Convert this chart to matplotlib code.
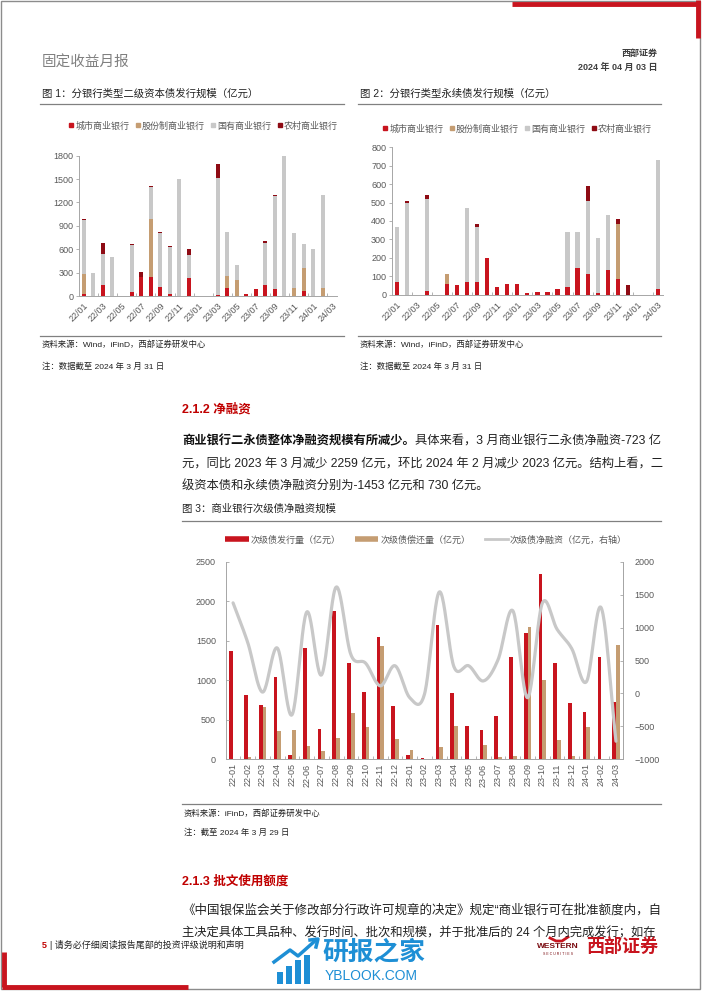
import numpy as np
import matplotlib
matplotlib.use('Agg')
import matplotlib.pyplot as plt
from matplotlib.lines import Line2D
from matplotlib.patches import Rectangle

plt.rcParams['font.family'] = ['Liberation Sans', 'Noto Sans CJK SC', 'DejaVu Sans']

W, H = 702, 991

# ---- data ----
months = ['22/01', '22/02', '22/03', '22/04', '22/05', '22/06', '22/07', '22/08', '22/09',
          '22/10', '22/11', '22/12', '23/01', '23/02', '23/03', '23/04', '23/05', '23/06',
          '23/07', '23/08', '23/09', '23/10', '23/11', '23/12', '24/01', '24/02', '24/03']
bank_types = ['城市商业银行', '股份制商业银行', '国有商业银行', '农村商业银行']

# fig 1: tier-2 capital bonds by bank type
t2_city = [30, 0, 140, 0, 0, 55, 250, 245, 110, 20, 0, 230, 0, 0, 15, 105, 0, 30, 90, 140, 85, 0, 0, 65, 0, 0, 0]
t2_joint = [250, 0, 0, 0, 0, 0, 0, 745, 0, 0, 0, 0, 0, 0, 0, 155, 200, 0, 0, 0, 0, 0, 100, 295, 0, 100, 0]
t2_state = [690, 295, 395, 500, 0, 595, 0, 410, 700, 605, 1500, 300, 0, 0, 1505, 555, 200, 0, 0, 545, 1200, 1800, 705, 305, 600, 1200, 0]
t2_rural = [15, 0, 150, 0, 0, 20, 55, 15, 10, 15, 5, 70, 0, 0, 170, 5, 0, 0, 0, 15, 5, 0, 5, 0, 0, 0, 0]

# fig 2: perpetual bonds by bank type
pp_city = [70, 0, 0, 20, 0, 60, 50, 70, 70, 200, 40, 60, 60, 10, 13, 13, 30, 40, 145, 110, 10, 135, 85, 0, 0, 0, 30]
pp_joint = [0, 0, 0, 0, 0, 50, 0, 0, 0, 0, 0, 0, 0, 0, 0, 0, 0, 0, 0, 0, 0, 0, 300, 0, 0, 0, 0]
pp_state = [300, 500, 0, 500, 0, 0, 0, 400, 300, 0, 0, 0, 0, 0, 0, 0, 0, 300, 195, 400, 300, 300, 0, 0, 0, 0, 700]
pp_rural = [0, 10, 0, 22, 0, 0, 0, 0, 16, 0, 0, 0, 0, 0, 0, 0, 0, 0, 0, 80, 0, 0, 25, 50, 0, 0, 0]

# fig 3: subordinated debt issuance / redemption / net financing
issue = [1370, 809, 683, 1046, 51, 1408, 388, 1880, 1214, 852, 1543, 679, 59, 13, 1699, 835,
         426, 367, 548, 1290, 1602, 2344, 1218, 717, 594, 1298, 729]
repay = [0, 34, 666, 354, 371, 173, 110, 266, 590, 405, 1433, 257, 114, 0, 160, 426,
         0, 181, 25, 42, 1670, 1003, 249, 38, 413, 0, 1446]
net = [1375, 770, 20, 690, -325, 1235, 280, 1615, 590, 460, 115, 420, -65, -10, 1540, 405,
       420, 190, 515, 1255, -65, 1370, 975, 680, 180, 1300, -725]
months_dash = [m.replace('/', '-') for m in months]

RED = '#C8141E'
DARK = '#8E0B14'
TAN = '#C59D72'
GREY = '#C8C8C8'
AXC = '#A6A6A6'
LAB = '#595959'
BODY = 8.85


def box(l, t, r, b):
    return [l / W, 1 - b / H, (r - l) / W, (b - t) / H]


def smooth(x, y, n=24):
    # catmull-rom curve through the points (like excel's smoothed line)
    x = np.asarray(x, float)
    y = np.asarray(y, float)
    px = np.concatenate([[2 * x[0] - x[1]], x, [2 * x[-1] - x[-2]]])
    py = np.concatenate([[2 * y[0] - y[1]], y, [2 * y[-1] - y[-2]]])
    t = np.linspace(0, 1, n, endpoint=False)
    xs, ys = [], []
    for i in range(1, len(px) - 2):
        for p, out in ((px, xs), (py, ys)):
            p0, p1, p2, p3 = p[i - 1], p[i], p[i + 1], p[i + 2]
            out.extend(0.5 * (2 * p1 + (p2 - p0) * t + (2 * p0 - 5 * p1 + 4 * p2 - p3) * t ** 2
                              + (3 * p1 - p0 - 3 * p2 + p3) * t ** 3))
    xs.append(x[-1])
    ys.append(y[-1])
    return xs, ys


fig = plt.figure(figsize=(W / 100, H / 100), dpi=100)

# page overlay in pixel coordinates
pg = fig.add_axes([0, 0, 1, 1])
pg.set_xlim(0, W)
pg.set_ylim(H, 0)
pg.axis('off')

# frame and red corner marks
pg.add_patch(Rectangle((1, 1), 699, 988, fill=False, ec='#8c8c8c', lw=1))
pg.plot([512, 699], [4, 4], color=RED, lw=3.5, solid_capstyle='butt')
pg.plot([697.5, 697.5], [0, 38], color=RED, lw=3.5, solid_capstyle='butt')
pg.plot([4, 4], [952, 987], color=RED, lw=3.5, solid_capstyle='butt')
pg.plot([2, 188], [986.5, 986.5], color=RED, lw=3.5, solid_capstyle='butt')

# header
pg.text(42, 63, '固定收益月报', fontsize=10.5, color='#808080', va='center')
pg.text(658, 53, '西部证券', fontsize=6.5, color='#404040', va='center', ha='right', fontweight='bold')
pg.text(658, 67, '2024 年 04 月 03 日', fontsize=6.5, color='#404040', va='center', ha='right', fontweight='bold')

# figure 1/2 titles and notes
pg.text(42, 94, '图 1：分银行类型二级资本债发行规模（亿元）', fontsize=7.5, color='#222222', va='center')
pg.text(360, 94, '图 2：分银行类型永续债发行规模（亿元）', fontsize=7.5, color='#222222', va='center')
for x0, x1 in ((40, 344), (358, 661)):
    pg.plot([x0, x1], [104, 104], color='#808080', lw=0.9)
    pg.plot([x0, x1], [336, 336], color='#808080', lw=0.9)
    pg.text(x0 + 2, 345, '资料来源：Wind，iFinD，西部证券研发中心', fontsize=6, color='#222222', va='center')
    pg.text(x0 + 2, 367, '注：数据截至 2024 年 3 月 31 日', fontsize=6, color='#222222', va='center')

# section 2.1.2
pg.text(182, 409, '2.1.2 净融资', fontsize=9, color='#C00000', fontweight='bold', va='center')
renderer = fig.canvas.get_renderer()
bold = pg.text(182, 441, '商业银行二永债整体净融资规模有所减少。', fontsize=BODY, color='#111111',
               fontweight='bold', va='center')
bx = bold.get_window_extent(renderer=renderer).x1
pg.text(bx, 441, '具体来看，3 月商业银行二永债净融资-723 亿', fontsize=BODY, color='#222222', va='center')
pg.text(182, 464, '元，同比 2023 年 3 月减少 2259 亿元，环比 2024 年 2 月减少 2023 亿元。结构上看，二',
        fontsize=BODY, color='#222222', va='center')
pg.text(182, 487, '级资本债和永续债净融资分别为-1453 亿元和 730 亿元。', fontsize=BODY, color='#222222', va='center')

pg.text(182, 509, '图 3：商业银行次级债净融资规模', fontsize=7.5, color='#222222', va='center')
pg.plot([182, 661], [521, 521], color='#808080', lw=0.9)
pg.plot([182, 661], [804, 804], color='#808080', lw=0.9)
pg.text(184, 814, '资料来源：iFinD，西部证券研发中心', fontsize=6, color='#222222', va='center')
pg.text(184, 833, '注：截至 2024 年 3 月 29 日', fontsize=6, color='#222222', va='center')

# section 2.1.3
pg.text(182, 882, '2.1.3 批文使用额度', fontsize=9, color='#C00000', fontweight='bold', va='center')
pg.text(182, 910, '《中国银保监会关于修改部分行政许可规章的决定》规定“商业银行可在批准额度内，自',
        fontsize=9, color='#222222', va='center')
pg.text(182, 933, '主决定具体工具品种、发行时间、批次和规模，并于批准后的 24 个月内完成发行；如在',
        fontsize=BODY, color='#222222', va='center')

# footer
pg.text(42, 945, '5', fontsize=6.5, color='#C00000', fontweight='bold', va='center')
pg.text(50, 945, '| 请务必仔细阅读报告尾部的投资评级说明和声明', fontsize=6.5, color='#222222', va='center')

# watermark logo
BLUE = '#1E8FD5'
for bx0, top in ((277, 972), (286, 966), (295, 960), (304, 955)):
    pg.add_patch(Rectangle((bx0, top), 6, 984 - top, color=BLUE, lw=0))
pg.plot([274, 290, 298, 316], [962, 950, 956, 940], color=BLUE, lw=2.5)
pg.plot([310, 318, 316], [940, 939, 947], color=BLUE, lw=2.5)
pg.text(322, 952, '研报之家', fontsize=18.5, color=BLUE, va='center', fontweight='bold')
pg.text(325, 976, 'YBLOOK.COM', fontsize=10, color=BLUE, va='center')

# western logo
pg.text(558, 947, 'WESTERN', fontsize=6, color='#7a0b10', va='center', ha='center', fontweight='bold')
pg.text(558, 954, 'S E C U R I T I E S', fontsize=2.5, color='#7a0b10', va='center', ha='center')
pg.plot([550, 556, 562, 568], [938, 941, 941, 937], color=RED, lw=2)
pg.text(658, 947, '西部证券', fontsize=13, color=RED, va='center', ha='right', fontweight='bold')

x = np.arange(len(months))


def stacked(ax, series, ymax, step):
    bottom = np.zeros(len(x))
    for vals, col in zip(series, [RED, TAN, GREY, DARK]):
        ax.bar(x, vals, width=0.42, bottom=bottom, color=col, lw=0)
        bottom += np.asarray(vals, float)
    ax.set_xlim(-0.5, len(x) - 0.5)
    ax.set_ylim(0, ymax)
    ax.set_yticks(np.arange(0, ymax + 1, step))
    ax.set_xticks(x[::2])
    ax.set_xticklabels(months[::2], rotation=45, ha='right', rotation_mode='anchor')
    ax.set_xticks(np.arange(1.5, len(x) - 1, 2), minor=True)
    for s in ('top', 'right'):
        ax.spines[s].set_visible(False)
    for s in ('left', 'bottom'):
        ax.spines[s].set_color(AXC)
        ax.spines[s].set_linewidth(0.7)
    ax.tick_params(axis='y', labelsize=6.5, labelcolor=LAB, length=2, width=0.6, color=AXC, pad=2)
    ax.tick_params(axis='x', which='major', labelsize=6.5, labelcolor=LAB, length=0, pad=4)
    ax.tick_params(axis='x', which='minor', direction='in', length=2, width=0.6, color=AXC)
    ax.patch.set_alpha(0)


ax1 = fig.add_axes(box(79, 155.7, 337, 296))
stacked(ax1, [t2_city, t2_joint, t2_state, t2_rural], 1800, 300)
ax2 = fig.add_axes(box(391.7, 147.3, 663, 294.7))
stacked(ax2, [pp_city, pp_joint, pp_state, pp_rural], 800, 100)

sq = [Line2D([], [], marker='s', ls='', ms=3.3, color=c) for c in (RED, TAN, GREY, DARK)]
for cx, cy in ((203, 126), (517, 129)):
    fig.legend(sq, bank_types, loc='center', bbox_to_anchor=(cx / W, 1 - cy / H), ncol=4,
               frameon=False, fontsize=6.5, labelcolor=LAB, handlelength=0.7, handletextpad=0.1,
               columnspacing=0.6, borderaxespad=0, borderpad=0)

# figure 3
ax3 = fig.add_axes(box(225.7, 561.7, 623.3, 759.3))
ax3.bar(x - 0.125, issue, width=0.25, color=RED, lw=0)
ax3.bar(x + 0.125, repay, width=0.25, color=TAN, lw=0)
ax3.set_xlim(-0.5, len(x) - 0.5)
ax3.set_ylim(0, 2500)
ax3.set_yticks(np.arange(0, 2501, 500))
ax3.set_xticks(x)
ax3.set_xticklabels(months_dash, rotation=90)
ax3.set_xticks(np.arange(-0.5, len(x), 1), minor=True)
ax3.spines['top'].set_visible(False)
for s in ('left', 'right', 'bottom'):
    ax3.spines[s].set_color(AXC)
    ax3.spines[s].set_linewidth(0.7)
ax3.tick_params(axis='y', labelsize=6.5, labelcolor=LAB, direction='in', length=2, width=0.6, color=AXC, pad=7)
ax3.tick_params(axis='x', which='major', labelsize=6.5, labelcolor=LAB, length=0, pad=3)
ax3.tick_params(axis='x', which='minor', direction='in', length=2, width=0.6, color=AXC)
ax3.patch.set_alpha(0)

ax3r = ax3.twinx()
sx, sy = smooth(x, net)
ax3r.plot(sx, sy, color=GREY, lw=2.3, solid_capstyle='round')
ax3r.set_ylim(-1000, 2000)
ax3r.set_yticks(np.arange(-1000, 2001, 500))
for s in ('top', 'left', 'bottom'):
    ax3r.spines[s].set_visible(False)
ax3r.spines['right'].set_color(AXC)
ax3r.spines['right'].set_linewidth(0.7)
ax3r.tick_params(axis='y', labelsize=6.5, labelcolor=LAB, direction='in', length=2, width=0.6, color=AXC, pad=8)

h3 = [Line2D([], [], color=RED, lw=4, solid_capstyle='butt'),
      Line2D([], [], color=TAN, lw=4, solid_capstyle='butt'),
      Line2D([], [], color=GREY, lw=2)]
fig.legend(h3, ['次级债发行量（亿元）', '次级债偿还量（亿元）', '次级债净融资（亿元，右轴）'],
           loc='center', bbox_to_anchor=(426 / W, 1 - 540 / H), ncol=3, frameon=False,
           fontsize=6.5, labelcolor=LAB, handlelength=2.6, handletextpad=0.2,
           columnspacing=1.6, borderaxespad=0, borderpad=0)

fig.savefig('out.png', dpi=100)
